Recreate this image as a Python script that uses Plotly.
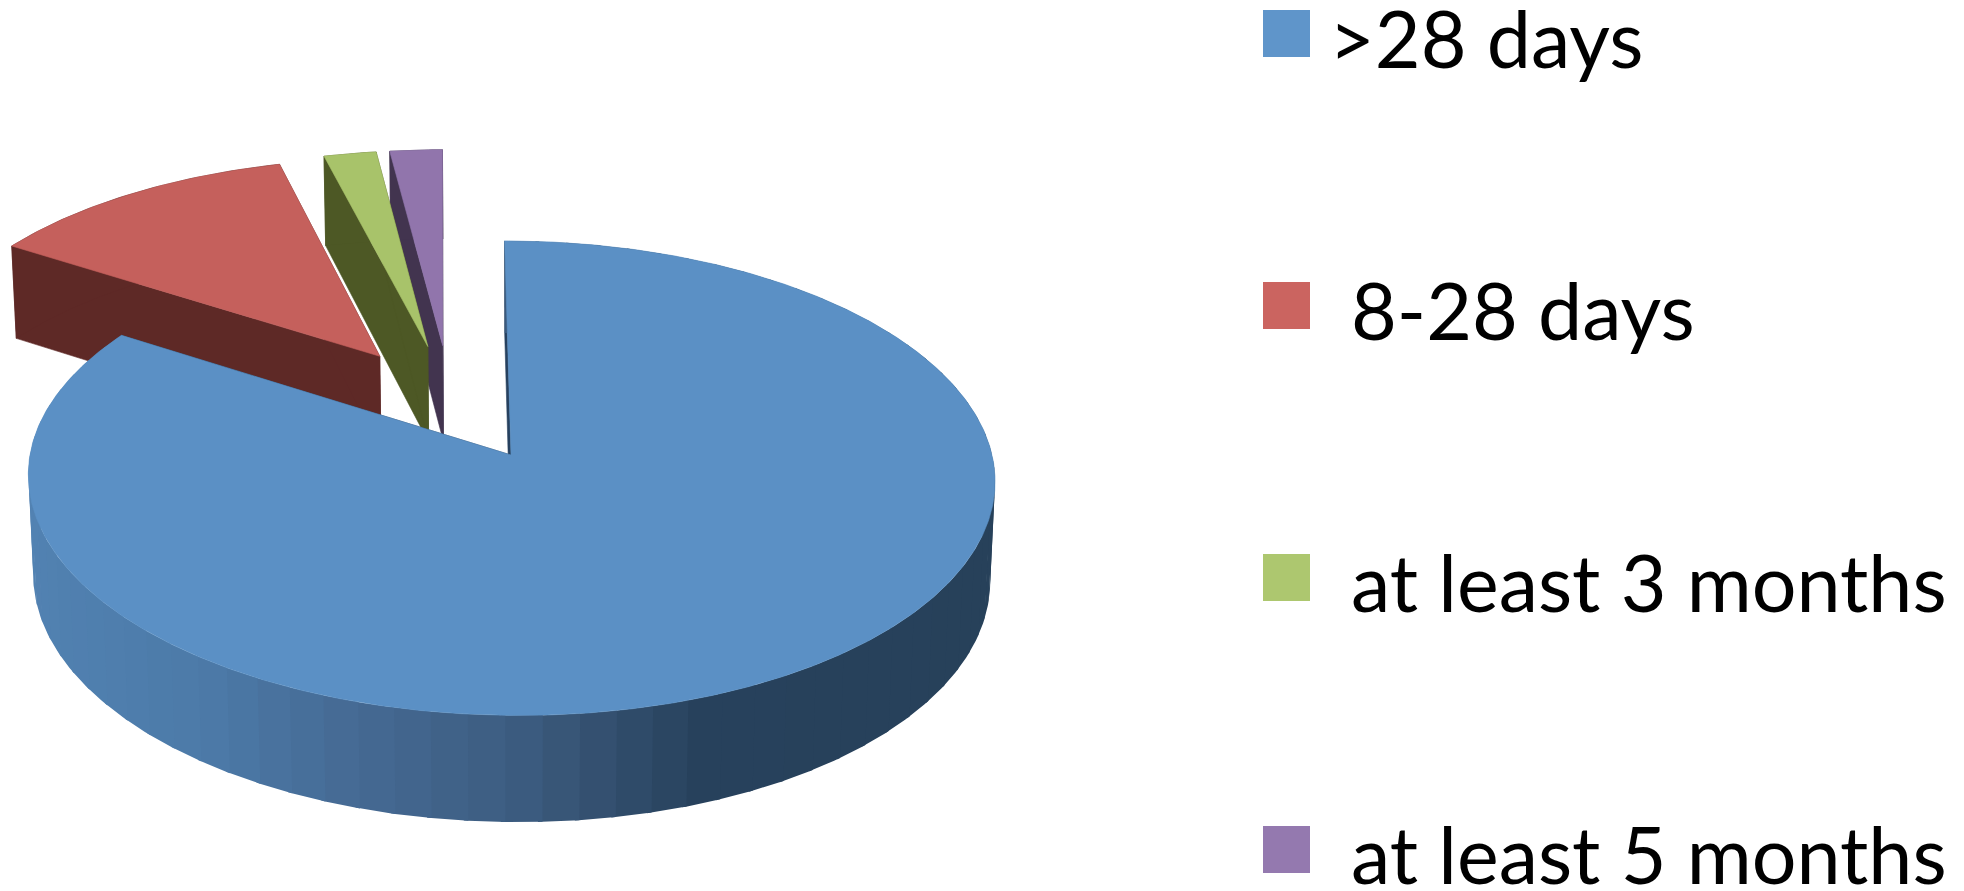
import math
import plotly.graph_objects as go

# Share of patients per follow-up duration, clockwise from 12 o'clock
categories = [">28 days", "8-28 days", "at least 3 months", "at least 5 months"]
shares = [84, 12, 2, 2]

top_colors = ["#5B90C5", "#C5605C", "#A8C36A", "#9175AC"]
face_colors = ["#27415F", "#5E2926", "#4D5825", "#42344F"]
swatch_colors = ["#5F95CA", "#CB6460", "#ADC76F", "#9479AF"]
label_left = [1327, 1349, 1349, 1349]
swatch_mid = [33.5, 305.5, 577.5, 849.5]

# Rim shading of the large slice, keyed by horizontal position on the disc
rim_stops = [(-1.0, (82, 130, 178)), (-0.6, (76, 122, 168)), (-0.35, (70, 108, 150)),
             (0.0, (60, 92, 128)), (0.15, (52, 80, 112)), (0.35, (39, 65, 92)), (1.0, (39, 65, 90))]

EXPLODE = 0.26
X0, Y0 = 511.0, 455.0
SX, AY, SHEAR, KY, DEPTH, KZ = 481.0, 235.0, -7.0, 0.0976, 100.0, 0.01
BAND_DEG = 4.0
FINE_DEG = 0.5


def project(px, py, d=0.0):
    """Perspective view of a disc point (px, py) at depth fraction d below the top."""
    w = 1 + KY * py + KZ * d
    return X0 + (SX * px + SHEAR * py) / w, Y0 - (AY * py - DEPTH * d) / w


def direction(deg):
    return math.sin(math.radians(deg)), math.cos(math.radians(deg))


def rim_shade(u):
    for (u0, c0), (u1, c1) in zip(rim_stops, rim_stops[1:]):
        if u <= u1:
            f = max(0.0, (u - u0) / (u1 - u0))
            return "rgb(%d,%d,%d)" % tuple(round(a + (b - a) * f) for a, b in zip(c0, c1))
    return "rgb(%d,%d,%d)" % rim_stops[-1][1]


def add_poly(fig, pts, color, stroke=0.6):
    xs = [p[0] for p in pts] + [pts[0][0]]
    ys = [p[1] for p in pts] + [pts[0][1]]
    fig.add_trace(go.Scatter(x=xs, y=ys, mode="lines", fill="toself", fillcolor=color,
                             line=dict(color=color, width=stroke), hoverinfo="skip",
                             showlegend=False))


def arc_points(ox, oy, a0, a1, step):
    n = max(2, int(math.ceil((a1 - a0) / step)))
    return [(ox + direction(a0 + (a1 - a0) * j / n)[0], oy + direction(a0 + (a1 - a0) * j / n)[1])
            for j in range(n + 1)]


# Slice angle ranges
total = sum(shares)
spans = []
start = 0.0
for v in shares:
    end = start + 360.0 * v / total
    spans.append((start, end))
    start = end

mid0 = direction(sum(spans[0]) / 2)

fig = go.Figure()

# Back slices first so that the large slice sits in front
for i in [3, 2, 1, 0]:
    a0, a1 = spans[i]
    mid = direction((a0 + a1) / 2)
    ox, oy = EXPLODE * (mid[0] - mid0[0]), EXPLODE * (mid[1] - mid0[1])
    fine = arc_points(ox, oy, a0, a1, FINE_DEG)

    # Cut faces
    for edge in (fine[0], fine[-1]):
        add_poly(fig, [project(ox, oy), project(*edge), project(*edge, 1), project(ox, oy, 1)],
                 face_colors[i])

    # Outer rim: flat-shaded bands on the large slice, each overlapping the next one painted
    if i == 0:
        bands = int((a1 - a0) / BAND_DEG)
        for b in range(bands):
            b0 = a0 + (a1 - a0) * b / bands
            b1 = a0 + (a1 - a0) * (b + 1) / bands
            seg = arc_points(ox, oy, b0, min(a1, b1 + FINE_DEG), FINE_DEG)
            shade = rim_shade(direction((b0 + b1) / 2)[0])
            outline = [project(*p) for p in seg] + [project(*p, 1) for p in reversed(seg)]
            add_poly(fig, outline, shade, stroke=0)
    else:
        outline = [project(*p) for p in fine] + [project(*p, 1) for p in reversed(fine)]
        add_poly(fig, outline, face_colors[i])

    # Top surface
    add_poly(fig, [project(ox, oy)] + [project(*p) for p in fine], top_colors[i])

# Key swatches
fig.add_trace(go.Scatter(x=[1286.5] * 4, y=swatch_mid, mode="markers",
                         marker=dict(symbol="square", size=47, color=swatch_colors),
                         hoverinfo="skip", showlegend=False))

for name, left, mid in zip(categories, label_left, swatch_mid):
    fig.add_annotation(x=left, y=mid + 4, text=name, showarrow=False, xanchor="left",
                       yanchor="middle", font=dict(family="Lato", size=79, color="#000000"))

fig.update_layout(
    width=1964, height=891, margin=dict(l=0, r=0, t=0, b=0),
    paper_bgcolor="white", plot_bgcolor="white",
    xaxis=dict(range=[0, 1964], visible=False, fixedrange=True),
    yaxis=dict(range=[891, 0], visible=False, fixedrange=True),
)

fig.write_html("out.html")
